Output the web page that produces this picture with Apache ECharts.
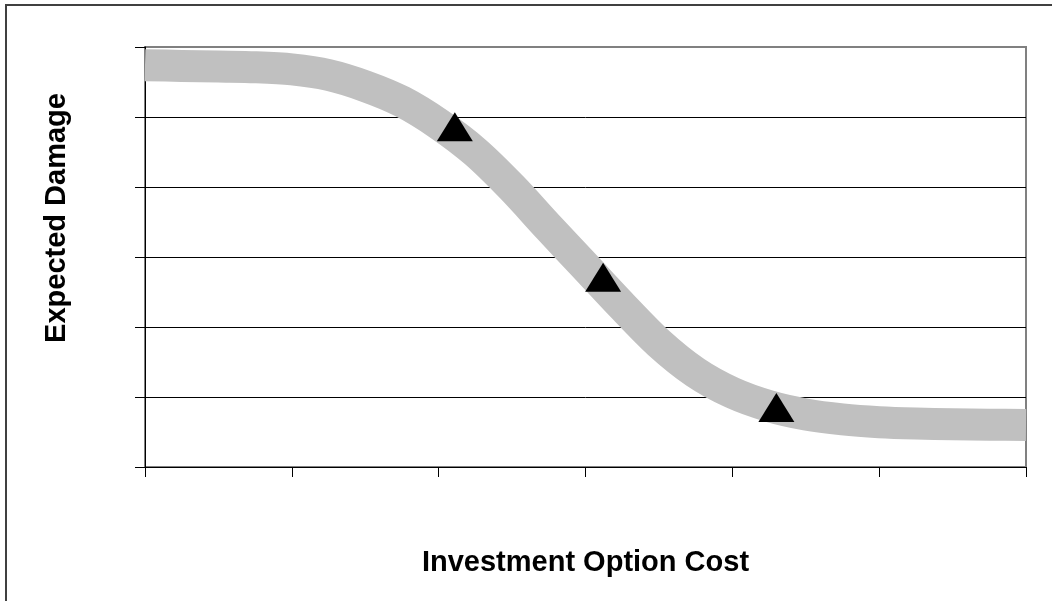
<!DOCTYPE html>
<html>
<head>
<meta charset="utf-8">
<script src="https://cdn.jsdelivr.net/npm/echarts@6/dist/echarts.min.js"></script>
<style>
  html, body { margin: 0; padding: 0; background: #fff; }
  #main { width: 1052px; height: 601px; }
</style>
</head>
<body>
<div id="main"></div>
<script>
// curve (x = cost, y = expected damage)
const costX = [0, 0.25, 0.5, 0.75, 1, 1.25, 1.5, 1.75, 2, 2.25, 2.5, 2.75, 3,
               3.25, 3.5, 3.75, 4, 4.25, 4.5, 4.75, 5, 5.25, 5.5, 5.75, 6];
const damage = [5.74, 5.73, 5.72, 5.71, 5.68, 5.60, 5.44, 5.22, 4.90, 4.50, 3.99, 3.42, 2.86,
                2.30, 1.77, 1.35, 1.06, 0.87, 0.75, 0.68, 0.64, 0.62, 0.61, 0.605, 0.60];

// the three options marked with triangles
const optionX = [2.11, 3.12, 4.3];
const optionY = [4.86, 2.71, 0.85];

let chart = echarts.init(document.getElementById('main'));

let curve = costX.map((x, i) => [x, damage[i]]);
let marks = optionX.map((x, i) => [x, optionY[i]]);

let option = {
    animation: false,
    textStyle: { fontFamily: 'Liberation Sans, Arial, sans-serif' },
    grid: {
        left: 145,
        right: 26,
        top: 47,
        bottom: 134,
        show: true,
        borderColor: '#808080',
        borderWidth: 2,
        backgroundColor: 'transparent'
    },
    xAxis: {
        type: 'value',
        min: 0,
        max: 6,
        interval: 1,
        name: 'Investment Option Cost',
        nameLocation: 'middle',
        nameGap: 81,
        nameTextStyle: { fontSize: 29, fontWeight: 'bold', color: '#000', fontFamily: 'Liberation Sans, Arial, sans-serif' },
        axisLine: { lineStyle: { color: '#000', width: 1 } },
        axisTick: { show: true, inside: false, length: 10, lineStyle: { color: '#000' } },
        axisLabel: { show: false },
        splitLine: { show: false }
    },
    yAxis: {
        type: 'value',
        min: 0,
        max: 6,
        interval: 1,
        axisLine: { show: true, lineStyle: { color: '#000', width: 1 } },
        axisTick: { show: true, inside: false, length: 10, lineStyle: { color: '#000' } },
        axisLabel: { show: false },
        splitLine: { show: true, showMaxLine: false, lineStyle: { color: '#000', width: 1 } }
    },
    graphic: [
        {
            type: 'rect',
            shape: { x: 6, y: 5, width: 1200, height: 800 },
            style: { fill: 'none', stroke: '#404040', lineWidth: 2 },
            silent: true
        },
        {
            type: 'text',
            x: 57,
            y: 218,
            rotation: Math.PI / 2,
            style: {
                text: 'Expected Damage',
                font: 'bold 29px "Liberation Sans", Arial, sans-serif',
                fill: '#000',
                align: 'center',
                verticalAlign: 'middle'
            }
        }
    ],
    series: [
        {
            name: 'Expected Damage',
            type: 'line',
            data: curve,
            smooth: 0.3,
            showSymbol: false,
            lineStyle: { color: '#C0C0C0', width: 32, cap: 'butt', join: 'round' },
            z: 2
        },
        {
            name: 'Options',
            type: 'scatter',
            data: marks,
            symbol: 'triangle',
            symbolSize: [36, 29],
            itemStyle: { color: '#000', opacity: 1 },
            z: 3
        }
    ]
};
chart.setOption(option);
</script>
</body>
</html>
